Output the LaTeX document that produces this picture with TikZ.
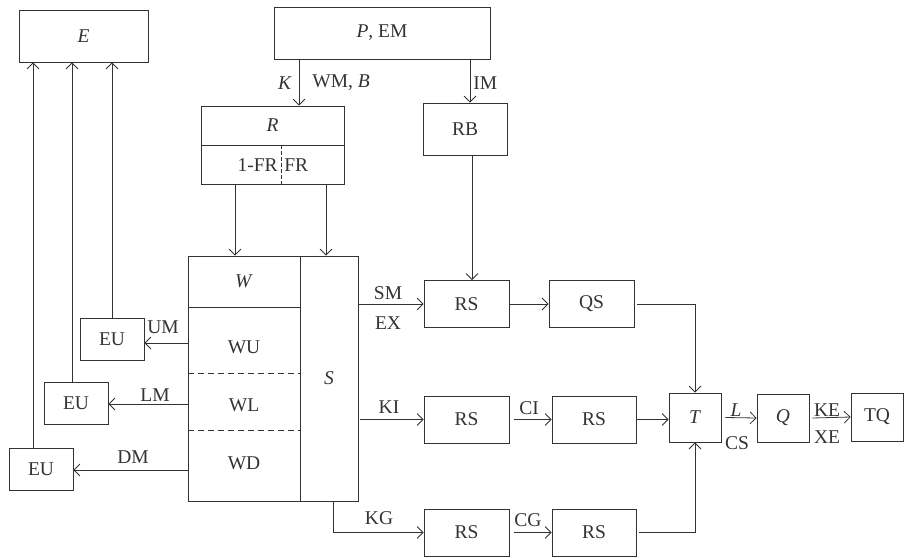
\documentclass[tikz,border=0pt]{standalone}
\usepackage{fontspec}
\setmainfont{Liberation Serif}
\usetikzlibrary{arrows.meta}
\begin{document}
\begin{tikzpicture}[x=1pt,y=-1pt, line width=0.8pt, color=black!80,
  font=\fontsize{19.5}{21}\selectfont,
  box/.style={draw, rectangle, inner sep=0pt},
  eu/.style={box, minimum width=64pt, minimum height=42pt},
  rsbox/.style={box, minimum width=85pt, minimum height=47pt},
  sq/.style={box, minimum width=52pt, minimum height=48pt},
  arr/.style={-{Straight Barb[length=6pt,width=12pt]}},
  dividers/.style={dash pattern=on 6pt off 4pt},
  lbl/.style={inner sep=0pt}]
\useasboundingbox (0,0) rectangle (904,557);
% helper coordinates
\coordinate (xK) at (299,0);
\coordinate (xIM) at (470,0);
\coordinate (xRB) at (472,0);
\coordinate (xD) at (281,0);
\coordinate (xW) at (235,0);
\coordinate (xS) at (326,0);
\coordinate (xE1) at (112,0);
\coordinate (xE2) at (72,0);
\coordinate (xE3) at (33,0);
\coordinate (xKG) at (333,0);
\coordinate (yUM) at (0,343);
\coordinate (yLM) at (0,404);
\coordinate (yDM) at (0,470);
\coordinate (yD1) at (0,373);
\coordinate (yD2) at (0,430);
% boxes
\node[box, minimum width=129pt, minimum height=52pt] (E) at (83.5,36) {\textit{E}};
\node[box, minimum width=216pt, minimum height=52pt] (P) at (382,33) {\textit{P}, EM};
\node[box, minimum width=143pt, minimum height=39pt] (R) at (272.5,125.5) {\textit{R}};
\node[box, minimum width=143pt, minimum height=39pt] (FR) at (272.5,164.5) {};
\draw[dash pattern=on 4pt off 2pt] (FR.north -| xD) -- (FR.south -| xD);
\node[lbl, anchor=east] (fr1) at (278,165) {1-FR};
\node[lbl, anchor=west] (fr2) at (284,165) {FR};
\node[box, minimum width=84pt, minimum height=52pt] (RB) at (465,129) {RB};
\node[box, minimum width=112pt, minimum height=51pt] (W) at (244,281.5) {\textit{W}};
\node[box, minimum width=112pt, minimum height=194pt] (Wl) at (244,404) {};
\node[box, minimum width=58pt, minimum height=245pt] (S) at (329,378.5) {\textit{S}};
\draw[dividers] (Wl.west |- yD1) -- (Wl.east |- yD1);
\draw[dividers] (Wl.west |- yD2) -- (Wl.east |- yD2);
\node[lbl] (WU) at (244,347) {WU};
\node[lbl] (WL) at (244,405) {WL};
\node[lbl] (WD) at (244,463) {WD};
\node[eu] (EU1) at (112,339) {EU};
\node[eu] (EU2) at (76,403) {EU};
\node[eu] (EU3) at (41,469) {EU};
\node[rsbox] (RS1) at (466.5,304) {RS};
\node[rsbox, minimum width=85pt] (QS) at (591.5,304) {QS};
\node[rsbox] (RS2) at (466.5,419.5) {RS};
\node[rsbox, minimum width=84pt] (RS3) at (594,419.5) {RS};
\node[rsbox] (RS4) at (466.5,532.5) {RS};
\node[rsbox, minimum width=84pt] (RS5) at (594,532.5) {RS};
\node[sq, minimum height=49pt] (T) at (695,417.5) {\textit{T}};
\node[sq] (Q) at (783,418) {\textit{Q}};
\node[sq] (TQ) at (877,417) {TQ};
% top connectors
\draw[arr] (P.south -| xK) -- (R.north -| xK);
\node[lbl] (lK) at (285,83) {\textit{K}};
\node[lbl, anchor=west] (lWM) at (312,83) {WM, \textit{B}};
\draw[arr] (P.south -| xIM) -- (RB.north -| xIM);
\node[lbl, anchor=west] (lIM) at (473,83) {IM};
\draw[arr] (FR.south -| xW) -- (W.north -| xW);
\draw[arr] (FR.south -| xS) -- (S.north -| xS);
% left connectors
\draw[arr] (Wl.west |- yUM) -- (EU1.east |- yUM);
\draw[arr] (Wl.west |- yLM) -- (EU2.east |- yLM);
\draw[arr] (Wl.west |- yDM) -- (EU3.east |- yDM);
\node[lbl] (lUM) at (163,327) {UM};
\node[lbl] (lLM) at (155,395) {LM};
\node[lbl] (lDM) at (133,457) {DM};
\draw[arr] (EU1.north -| xE1) -- (E.south -| xE1);
\draw[arr] (EU2.north -| xE2) -- (E.south -| xE2);
\draw[arr] (EU3.north -| xE3) -- (E.south -| xE3);
% right connectors
\draw[arr] (S.east |- RS1) -- (RS1.west);
\node[lbl] (lSM) at (388,293) {SM};
\node[lbl] (lEX) at (388,323) {EX};
\draw[arr] (RB.south -| xRB) -- (RS1.north -| xRB);
\draw[arr] (RS1.east) -- (QS.west);
\draw[arr] ([xshift=2pt]S.east |- RS2) -- (RS2.west);
\node[lbl] (lKI) at (389,407) {KI};
\draw[arr] ([xshift=5pt]RS2.east) -- (RS3.west);
\node[lbl] (lCI) at (529,408) {CI};
\draw[arr] (S.south -| xKG) |- (RS4.west);
\node[lbl] (lKG) at (379,518) {KG};
\draw[arr] ([xshift=5pt]RS4.east) -- (RS5.west);
\node[lbl] (lCG) at (528,520) {CG};
\draw[arr] ([xshift=3pt]QS.east) -| (T.north);
\draw[arr] (RS3.east) -- (RS3.east -| T.west);
\draw[arr] ([xshift=3pt]RS5.east) -| (T.south);
\draw[arr] ([xshift=4pt]T.east) -- (Q.west);
\node[lbl] (lL) at (736,410) {\textit{L}};
\node[lbl] (lCS) at (737,443) {CS};
\draw[arr] ([xshift=3pt]Q.east) -- (TQ.west);
\node[lbl] (lKE) at (827,410) {KE};
\node[lbl] (lXE) at (827,437) {XE};
\end{tikzpicture}
\end{document}
